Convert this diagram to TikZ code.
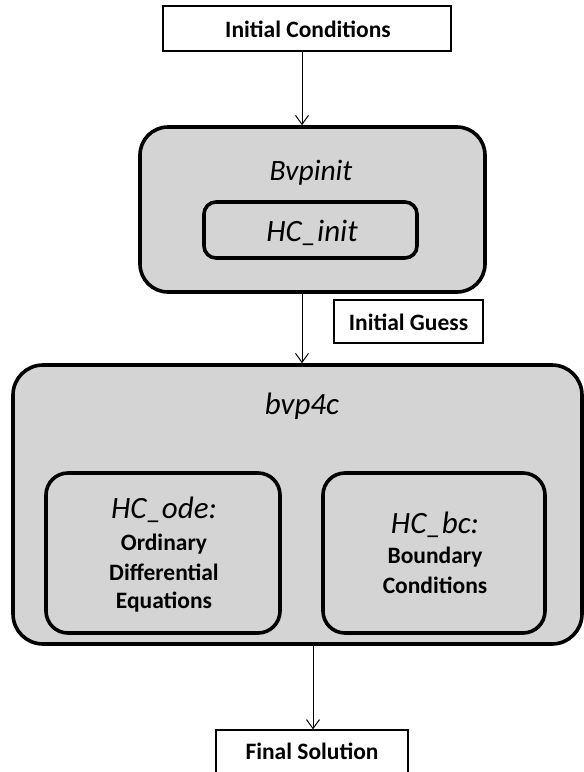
\documentclass[tikz,border=0pt]{standalone}
\usepackage{fontspec}
\setmainfont{Carlito}
\usetikzlibrary{arrows.meta}

\begin{document}
\begin{tikzpicture}[x=1pt,y=-1pt,
  flowbox/.style={draw=black, line width=1.2pt, fill=white, inner sep=0pt},
  module/.style={draw=black, line width=3.6pt, fill=black!17, rounded corners=#1, inner sep=0pt},
  module/.default=28pt,
  boldtxt/.style={font=\fontsize{23.5}{28}\selectfont\bfseries, anchor=base, inner sep=0pt},
  itxt/.style={font=\fontsize{#1}{#1}\selectfont\itshape, anchor=base, inner sep=0pt},
  flow/.style={draw=black, line width=1pt, -{Straight Barb[length=9pt,width=13pt,line width=1pt]}}
]
\useasboundingbox (0,0) rectangle (584,772);

% input box
\node[flowbox, minimum width=288pt, minimum height=45pt] (ic) at (307,28.5) {};
\node[boldtxt] (icl) at (308,37) {Initial Conditions};

% initialisation module
\node[module, minimum width=345pt, minimum height=165pt] (bv) at (312.5,209.5) {};
\node[itxt=29.5] (bvl) at (311,180) {Bvpinit};
\node[module=12pt, minimum width=213pt, minimum height=56pt] (hi) at (310.5,230) {};
\node[itxt=31] (hil) at (312,241) {HC\_init};

% intermediate result
\node[flowbox, minimum width=149pt, minimum height=43pt] (ig) at (408.5,321.5) {};
\node[boldtxt] (igl) at (408.5,330) {Initial Guess};

% solver module
\node[module=30pt, minimum width=569pt, minimum height=279pt] (bc) at (297.5,504.5) {};
\node[itxt=31] (bcl) at (302,414) {bvp4c};
\node[module=22pt, minimum width=234pt, minimum height=160pt] (ode) at (163,553) {};
\node[itxt=31] (odel) at (164,518) {HC\_ode:};
\node[boldtxt] (ode1) at (164,550) {Ordinary};
\node[boldtxt] (ode2) at (164,580) {Differential};
\node[boldtxt] (ode3) at (164,608) {Equations};
\node[module=22pt, minimum width=222pt, minimum height=160pt] (bnd) at (434,553) {};
\node[itxt=31] (bndl) at (435,533) {HC\_bc:};
\node[boldtxt] (bnd1) at (435,563) {Boundary};
\node[boldtxt] (bnd2) at (435,593) {Conditions};

% output box
\node[flowbox, minimum width=192pt, minimum height=62pt] (fs) at (312,761) {};
\node[boldtxt] (fsl) at (312,759) {Final Solution};

% connectors
\coordinate (ax) at (302,0);
\coordinate (bx) at (313,0);
\draw[flow] (ic.south -| ax) -- (bv.north -| ax);
\draw[flow] (bv.south -| ax) -- (bc.north -| ax);
\draw[flow] (bc.south -| bx) -- (fs.north -| bx);
\end{tikzpicture}
\end{document}
